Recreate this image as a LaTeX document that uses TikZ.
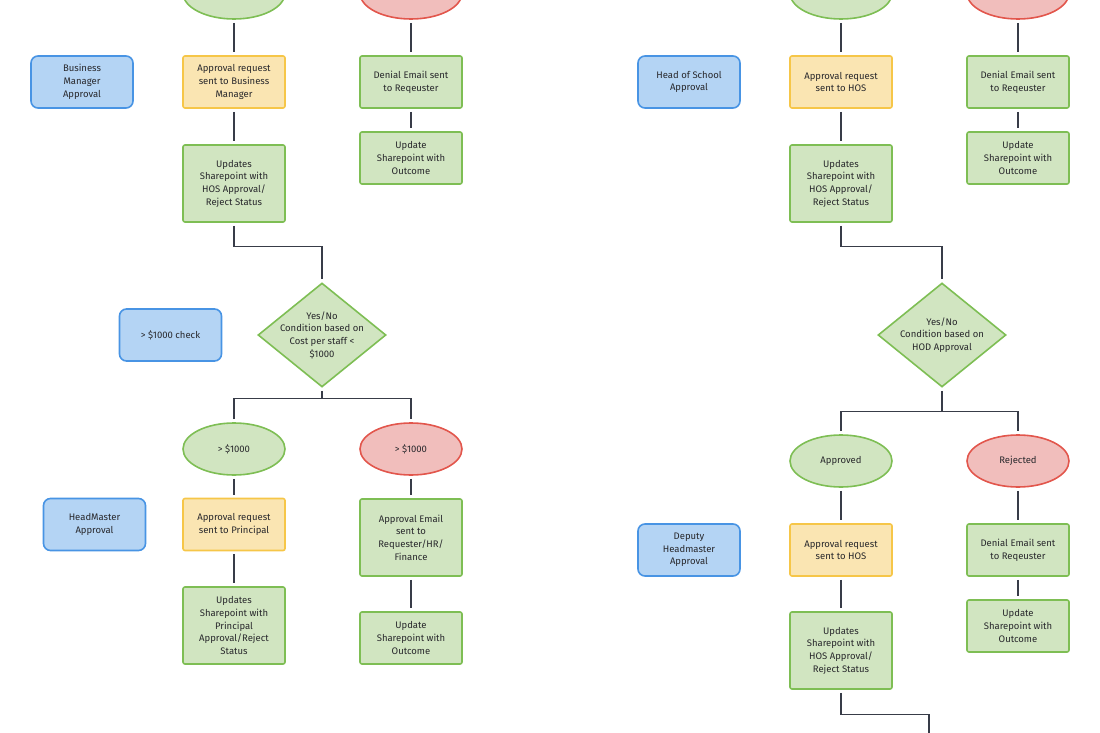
\documentclass[tikz,border=0pt]{standalone}
\usepackage{fontspec}
\setmainfont{Fira Sans}
\usetikzlibrary{shapes.geometric}

\definecolor{okfill}{RGB}{209,229,193}
\definecolor{okline}{RGB}{126,190,84}
\definecolor{nofill}{RGB}{241,190,188}
\definecolor{noline}{RGB}{226,86,76}
\definecolor{reqfill}{RGB}{250,229,178}
\definecolor{reqline}{RGB}{246,198,72}
\definecolor{lanefill}{RGB}{180,212,244}
\definecolor{laneline}{RGB}{72,148,228}
\definecolor{wire}{RGB}{56,60,72}
\definecolor{ink}{RGB}{40,40,44}

\begin{document}
\begin{tikzpicture}[x=1pt, y=-1pt,
every node/.style={%
    align=center, text=ink, line width=1.6pt, inner sep=1pt,
    font=\fontsize{9.5}{12.7}\selectfont
    },
box/.style={rectangle, rounded corners=2pt, minimum width=102pt, minimum height=52pt},
tall/.style={box, minimum height=77pt},
lane/.style={box, draw=laneline, fill=lanefill, rounded corners=7pt},
req/.style={box, draw=reqline, fill=reqfill},
act/.style={box, draw=okline, fill=okfill},
acttall/.style={tall, draw=okline, fill=okfill},
yes/.style={ellipse, draw=okline, fill=okfill, minimum width=102pt, minimum height=52pt},
no/.style={ellipse, draw=noline, fill=nofill, minimum width=102pt, minimum height=52pt},
decide/.style={diamond, draw=okline, fill=okfill, inner sep=-8pt, minimum width=128pt, minimum height=104pt},
conn/.style={draw=wire, line width=1.2pt, shorten <=3pt, shorten >=3pt}
]
\useasboundingbox (0,0) rectangle (1100,733);
\clip (0,0) rectangle (1100,733);

% left half
\node (okTopA) [yes] at (234,-7) {};
\node (noTopA) [no]  at (411,-7) {};
\node (bmLane) [lane] at (82,82) {Business\\Manager\\Approval};
\node (bmReq)  [req]  at (234,82) {Approval request\\sent to Business\\Manager};
\node (bmDeny) [act]  at (411,82) {Denial Email sent\\to Reqeuster};
\node (bmUpd)  [acttall] at (234,183.5) {Updates\\Sharepoint with\\HOS Approval/\\Reject Status};
\node (bmOut)  [act]  at (411,158) {Update\\Sharepoint with\\Outcome};
\node (costLane) [lane] at (170.5,335) {> \$1000 check};
\node (costDec)  [decide] at (322,335) {Yes/No\\Condition based on\\Cost per staff <\\\$1000};
\node (overA)  [yes] at (234,449) {> \$1000};
\node (overB)  [no]  at (411,449) {> \$1000};
\node (hmLane) [lane] at (94.5,524.5) {HeadMaster\\Approval};
\node (hmReq)  [req]  at (234,524.5) {Approval request\\sent to Principal};
\node (hmMail) [acttall] at (411,537.5) {Approval Email\\sent to\\Requester/HR/\\Finance};
\node (hmUpd)  [acttall] at (234,625.5) {Updates\\Sharepoint with\\Principal\\Approval/Reject\\Status};
\node (hmOut)  [act]  at (411,638) {Update\\Sharepoint with\\Outcome};

% right half
\node (okTopB) [yes] at (841,-7) {};
\node (noTopB) [no]  at (1018,-7) {};
\node (hosLane) [lane] at (689,82) {Head of School\\Approval};
\node (hosReq)  [req]  at (841,82) {Approval request\\sent to HOS};
\node (hosDeny) [act]  at (1018,82) {Denial Email sent\\to Reqeuster};
\node (hosUpd)  [acttall] at (841,183.5) {Updates\\Sharepoint with\\HOS Approval/\\Reject Status};
\node (hosOut)  [act]  at (1018,158) {Update\\Sharepoint with\\Outcome};
\node (hodDec)  [decide] at (942,335) {Yes/No\\Condition based on\\HOD Approval};
\node (okB) [yes] at (841,461) {Approved};
\node (noB) [no]  at (1018,461) {Rejected};
\node (dhLane) [lane] at (689,550) {Deputy\\Headmaster\\Approval};
\node (dhReq)  [req]  at (841,550) {Approval request\\sent to HOS};
\node (dhDeny) [act]  at (1018,550) {Denial Email sent\\to Reqeuster};
\node (dhUpd)  [acttall] at (841,650.5) {Updates\\Sharepoint with\\HOS Approval/\\Reject Status};
\node (dhOut)  [act]  at (1018,626) {Update\\Sharepoint with\\Outcome};
\coordinate (dhNext) at (929,745);

\foreach \i/\j in {okTopA/bmReq, bmReq/bmUpd, noTopA/bmDeny, bmDeny/bmOut,
                   overA/hmReq, hmReq/hmUpd, overB/hmMail, hmMail/hmOut,
                   okTopB/hosReq, hosReq/hosUpd, noTopB/hosDeny, hosDeny/hosOut,
                   okB/dhReq, dhReq/dhUpd, noB/dhDeny, dhDeny/dhOut%
            }
    \draw [conn] (\i) -- (\j);

\draw [conn] (bmUpd.south) -- ++(0,24) -| (costDec.north);
\draw [conn] (hosUpd.south) -- ++(0,24) -| (hodDec.north);
\draw [conn] (dhUpd.south) -- ++(0,25) -| (dhNext);

\path (costDec.south) ++(0,11) coordinate (costSplit);
\draw [conn, shorten >=0pt] (costDec.south) -- (costSplit);
\draw [conn] (overA.north) |- (costSplit) -| (overB.north);
\path (hodDec.south) ++(0,24) coordinate (hodSplit);
\draw [conn, shorten >=0pt] (hodDec.south) -- (hodSplit);
\draw [conn] (okB.north) |- (hodSplit) -| (noB.north);
\end{tikzpicture}
\end{document}
